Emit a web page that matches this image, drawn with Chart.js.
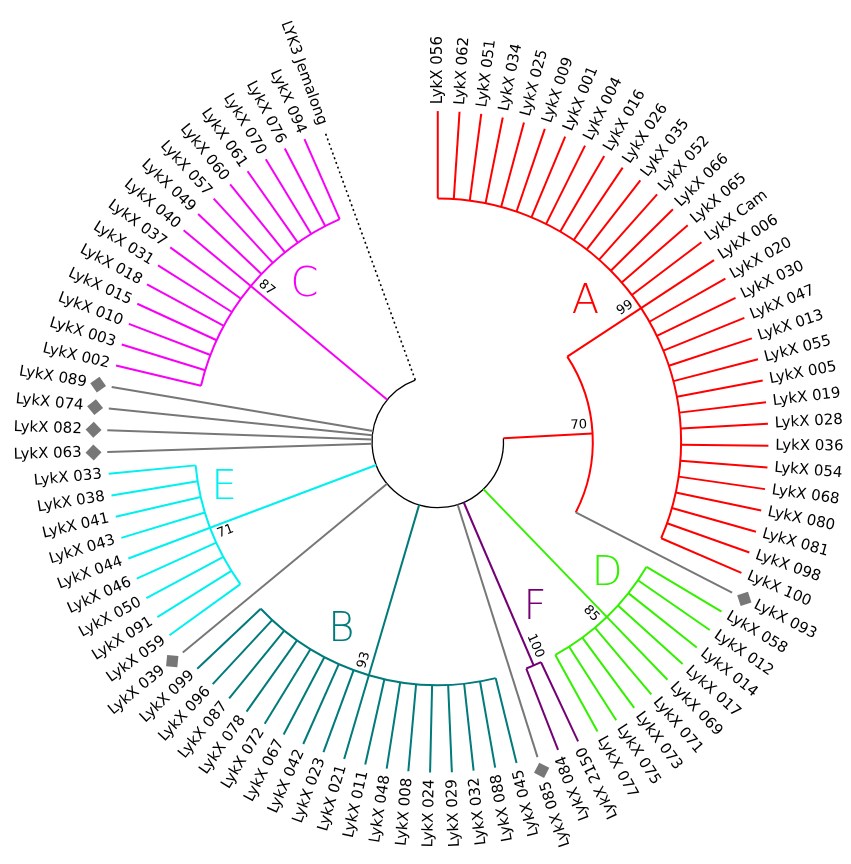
<!DOCTYPE html>
<html>
<head>
<meta charset="utf-8">
<script src="https://cdn.jsdelivr.net/npm/chart.js@4.4.1/dist/chart.umd.min.js"></script>
<style>
  html, body { margin: 0; padding: 0; background: #fff; }
  canvas { display: block; }
</style>
</head>
<body>
<canvas id="tree" width="851" height="864"></canvas>
<script>
// tips of each clade, clockwise from the top
const cladeA = ['LykX 056','LykX 062','LykX 051','LykX 034','LykX 025','LykX 009','LykX 001','LykX 004',
  'LykX 016','LykX 026','LykX 035','LykX 052','LykX 066','LykX 065','LykX Cam','LykX 006','LykX 020',
  'LykX 030','LykX 047','LykX 013','LykX 055','LykX 005','LykX 019','LykX 028','LykX 036','LykX 054',
  'LykX 068','LykX 080','LykX 081','LykX 098','LykX 100'];
const cladeD = ['LykX 058','LykX 012','LykX 014','LykX 017','LykX 069','LykX 071','LykX 073','LykX 075','LykX 077'];
const cladeF = ['LykX 2150','LykX 084'];
const cladeB = ['LykX 045','LykX 088','LykX 032','LykX 029','LykX 024','LykX 008','LykX 048','LykX 011',
  'LykX 021','LykX 023','LykX 042','LykX 067','LykX 072','LykX 078','LykX 087','LykX 096','LykX 099'];
const cladeE = ['LykX 059','LykX 091','LykX 050','LykX 046','LykX 044','LykX 043','LykX 041','LykX 038','LykX 033'];
const cladeC = ['LykX 002','LykX 003','LykX 010','LykX 015','LykX 018','LykX 031','LykX 037','LykX 040',
  'LykX 049','LykX 057','LykX 060','LykX 061','LykX 070','LykX 076','LykX 094'];

const cladeKeys = ['A','D','F','B','E','C'];
const cladeSupport = [99, 85, 100, 93, 71, 87];
const node70Support = 70;              // clade A + LykX 093
const node70Tips = ['LykX 093'];
const rootTips = ['LykX 085','LykX 039','LykX 063','LykX 082','LykX 074','LykX 089'];
const outgroupTip = 'LYK3 Jemalong';

const tipOrder = [...cladeA, 'LykX 093', ...cladeD, ...cladeF, 'LykX 085', ...cladeB, 'LykX 039',
  ...cladeE, 'LykX 063', 'LykX 082', 'LykX 074', 'LykX 089', ...cladeC, outgroupTip];

// ---- layout / style ----
const clades = { A: cladeA, D: cladeD, F: cladeF, B: cladeB, E: cladeE, C: cladeC };
const colours = { A:'#ff0000', D:'#33f000', F:'#740074', B:'#007a7a', E:'#00f0f0', C:'#f700f7' };
const GREY = '#777777';
const START = -90, STEP = 340 / 90;     // degrees, clockwise on screen
const R = { root: 67, n70: 158, clade: 248, tip: 337, mark: 351, label: 344, greyLabel: 363 };
const supportSide = { A: -1, D: 1, F: -1, B: 1, E: -1, C: 1, n70: -1 };
const letterPlace = { A: [-10, 207], D: [-8, 219], F: [-7, 197], B: [10.6, 216], E: [8.2, 223], C: [9.7, 209] };
const FONT = '"DejaVu Sans", "Noto Sans", sans-serif';

const angleOf = n => START + tipOrder.indexOf(n) * STEP;
const midOf = tips => (angleOf(tips[0]) + angleOf(tips[tips.length - 1])) / 2;
const pt = (r, a) => ({ x: r * Math.cos(a * Math.PI / 180), y: -r * Math.sin(a * Math.PI / 180) });

const branches = [];
const arcs = [];
const supports = [];
const letters = [];

cladeKeys.forEach((k, i) => {
  const tips = clades[k];
  const a = midOf(tips);
  tips.forEach(t => branches.push({ r0: R.clade, r1: R.tip, a: angleOf(t), colour: colours[k] }));
  arcs.push({ r: R.clade, a0: angleOf(tips[0]), a1: angleOf(tips[tips.length - 1]), colour: colours[k], width: 2 });
  branches.push({ r0: k === 'A' ? R.n70 : R.root, r1: R.clade, a: a, colour: colours[k] });
  supports.push({ r: R.clade, a: a, value: cladeSupport[i], side: supportSide[k] });
  letters.push({ text: k, a: a + letterPlace[k][0], r: letterPlace[k][1], colour: colours[k] });
});

const aA = midOf(cladeA);
const a093 = angleOf(node70Tips[0]);
const a70 = (aA + a093) / 2;
branches.push({ r0: R.root, r1: R.n70, a: a70, colour: colours.A });
arcs.push({ r: R.n70, a0: aA, a1: a093, colour: colours.A, width: 2 });
branches.push({ r0: R.n70, r1: R.tip, a: a093, colour: GREY });
supports.push({ r: R.n70, a: a70, value: node70Support, side: supportSide.n70 });

rootTips.forEach(t => branches.push({ r0: R.root, r1: R.tip, a: angleOf(t), colour: GREY }));
branches.push({ r0: R.root, r1: R.tip, a: angleOf(outgroupTip), colour: '#000', dash: [2, 3], width: 1.6 });
arcs.push({ r: R.root, a0: a70, a1: angleOf(outgroupTip), colour: '#000', width: 1.3 });

const greyTips = [...node70Tips, ...rootTips];

const datasets = branches.map(b => ({
  data: [pt(b.r0, b.a), pt(b.r1, b.a)],
  showLine: true,
  borderColor: b.colour,
  borderWidth: b.width || 2,
  borderDash: b.dash || [],
  borderCapStyle: 'butt',
  pointRadius: 0,
  fill: false
}));
datasets.push({
  data: greyTips.map(t => pt(R.mark, angleOf(t))),
  pointStyle: 'rectRot',
  pointRadius: 8,
  pointRotation: greyTips.map(t => angleOf(t)),
  backgroundColor: GREY,
  borderWidth: 0,
  showLine: false
});

const treePlugin = {
  id: 'tree',
  beforeDatasetsDraw(chart) {
    const { ctx, scales: { x, y } } = chart;
    const cx = x.getPixelForValue(0), cy = y.getPixelForValue(0);
    const k = x.getPixelForValue(1) - cx;
    ctx.save();
    arcs.forEach(c => {
      ctx.beginPath();
      ctx.strokeStyle = c.colour;
      ctx.lineWidth = c.width;
      ctx.arc(cx, cy, c.r * k, c.a0 * Math.PI / 180, c.a1 * Math.PI / 180);
      ctx.stroke();
    });
    ctx.restore();
  },
  afterDatasetsDraw(chart) {
    const { ctx, scales: { x, y } } = chart;
    const cx = x.getPixelForValue(0), cy = y.getPixelForValue(0);
    const k = x.getPixelForValue(1) - cx;
    ctx.save();
    ctx.fillStyle = '#000';
    ctx.textBaseline = 'middle';
    // tip labels
    ctx.font = '15px ' + FONT;
    tipOrder.forEach(t => {
      const a = angleOf(t);
      const r = (greyTips.includes(t) ? R.greyLabel : R.label) * k;
      ctx.save();
      ctx.translate(cx, cy);
      if (a < 63) {
        ctx.rotate(a * Math.PI / 180);
        ctx.textAlign = 'left';
        ctx.fillText(t, r, 0);
      } else {
        ctx.rotate((a - 180) * Math.PI / 180);
        ctx.textAlign = 'right';
        ctx.fillText(t, -r, 0);
      }
      ctx.restore();
    });
    // support values
    ctx.font = '13px ' + FONT;
    supports.forEach(s => {
      const r = (s.r - 5) * k;
      ctx.save();
      ctx.translate(cx, cy);
      if (s.a > -90 && s.a < 90) {
        ctx.rotate(s.a * Math.PI / 180);
        ctx.textAlign = 'right';
        ctx.fillText(String(s.value), r, s.side * 9);
      } else {
        ctx.rotate((s.a - 180) * Math.PI / 180);
        ctx.textAlign = 'left';
        ctx.fillText(String(s.value), -r, -s.side * 9);
      }
      ctx.restore();
    });
    // clade letters
    ctx.font = '200 40px ' + FONT;
    ctx.textAlign = 'center';
    letters.forEach(l => {
      const p = pt(l.r, l.a);
      ctx.fillStyle = l.colour;
      ctx.fillText(l.text, x.getPixelForValue(p.x), y.getPixelForValue(p.y));
    });
    ctx.restore();
  }
};

new Chart(document.getElementById('tree'), {
  type: 'scatter',
  data: { datasets: datasets },
  options: {
    responsive: false,
    animation: false,
    layout: { padding: 0 },
    scales: {
      x: { type: 'linear', min: -438, max: 413, display: false },
      y: { type: 'linear', min: -422, max: 442, display: false }
    },
    plugins: { legend: { display: false }, tooltip: { enabled: false } }
  },
  plugins: [treePlugin]
});
</script>
</body>
</html>
